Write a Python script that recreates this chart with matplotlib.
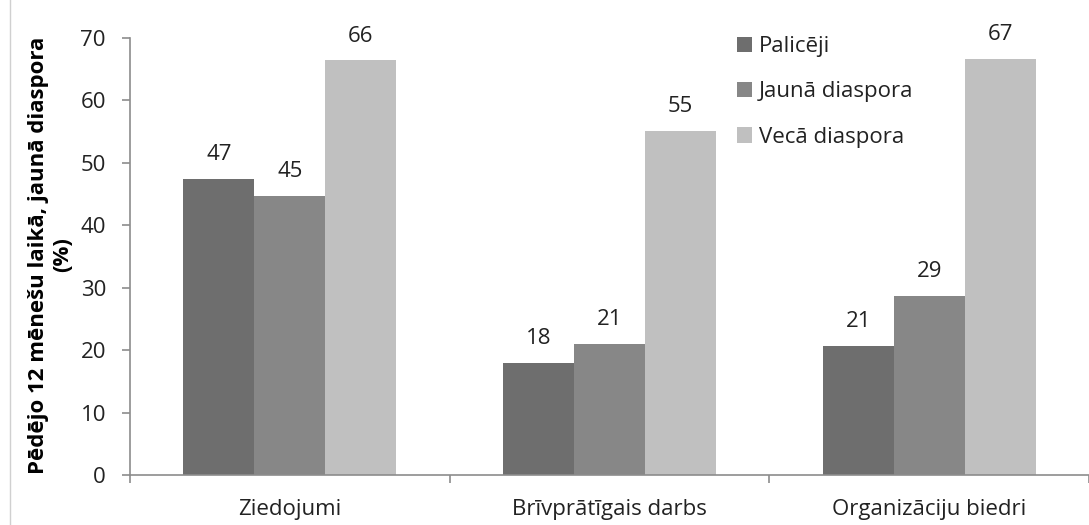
import matplotlib
matplotlib.use("Agg")
import matplotlib.pyplot as plt
import numpy as np
from matplotlib.lines import Line2D

categories = ["Ziedojumi", "Brīvprātīgais darbs", "Organizāciju biedri"]
series = ["Palicēji", "Jaunā diaspora", "Vecā diaspora"]
palliceji = [47.4, 17.9, 20.7]
jauna = [44.7, 21.0, 28.7]
veca = [66.4, 55.1, 66.7]
yticks = [0, 10, 20, 30, 40, 50, 60, 70]
ylabel = "Pēdējo 12 mēnešu laikā, jaunā diaspora\n(%)"

colors = ["#6e6e6e", "#878787", "#c0c0c0"]
plt.rcParams['font.family'] = ['Open Sans', 'DejaVu Sans']
txt = "#222222"
fs = 16

W, H = 1089, 525
fig = plt.figure(figsize=(W / 100, H / 100), dpi=100)
x0, y0, ytop = 130, 475, 38
ax = fig.add_axes([x0 / W, 1 - y0 / H, 1 - x0 / W, (y0 - ytop) / H])

x = np.arange(len(categories))
bw = 0.222
vals = [palliceji, jauna, veca]
for i, (s, v) in enumerate(zip(series, vals)):
    bars = ax.bar(x + (i - 1) * bw, v, bw, color=colors[i], label=s, zorder=2)
    for b, val in zip(bars, v):
        ax.annotate(f"{round(val):d}", (b.get_x() + b.get_width() / 2, val),
                    xytext=(0, 10), textcoords="offset points",
                    ha="center", va="bottom", fontsize=fs, color=txt)

ax.set_xlim(-0.5, -0.5 + (W - x0) / 322.5)
ax.set_ylim(0, 70)
ax.set_yticks(yticks)
ax.set_xticks(x)
ax.set_xticklabels(categories)
ax.set_xticks(np.arange(len(categories) + 1) - 0.5, minor=True)

for sp in ["top", "right"]:
    ax.spines[sp].set_visible(False)
for sp in ["left", "bottom"]:
    ax.spines[sp].set_color("#8c8c8c")
    ax.spines[sp].set_linewidth(1.2)

ax.tick_params(axis="y", direction="out", length=5.8, width=1.2, color="#8c8c8c",
               pad=11.5, labelsize=fs, labelcolor=txt)
ax.tick_params(axis="x", which="major", length=0, pad=17, labelsize=fs, labelcolor=txt)
ax.tick_params(axis="x", which="minor", direction="out", length=6, width=1.2, color="#8c8c8c")

fig.text(51 / W, 1 - 255 / H, ylabel, rotation=90, ha="center", va="center",
         fontsize=fs, fontweight="bold", color="#000000", linespacing=1.2)

ax.legend(loc="upper left", bbox_to_anchor=(737 / W, 1 - 36 / H),
          bbox_transform=fig.transFigure, frameon=False, fontsize=fs,
          handlelength=0.68, handleheight=0.68, handletextpad=0.3,
          labelspacing=1.1, borderpad=0, borderaxespad=0, labelcolor=txt)

fig.add_artist(Line2D([10 / W, 10 / W], [0, 1], transform=fig.transFigure,
                      color="#d0d0d0", linewidth=1))

fig.savefig("out.png", dpi=100)
